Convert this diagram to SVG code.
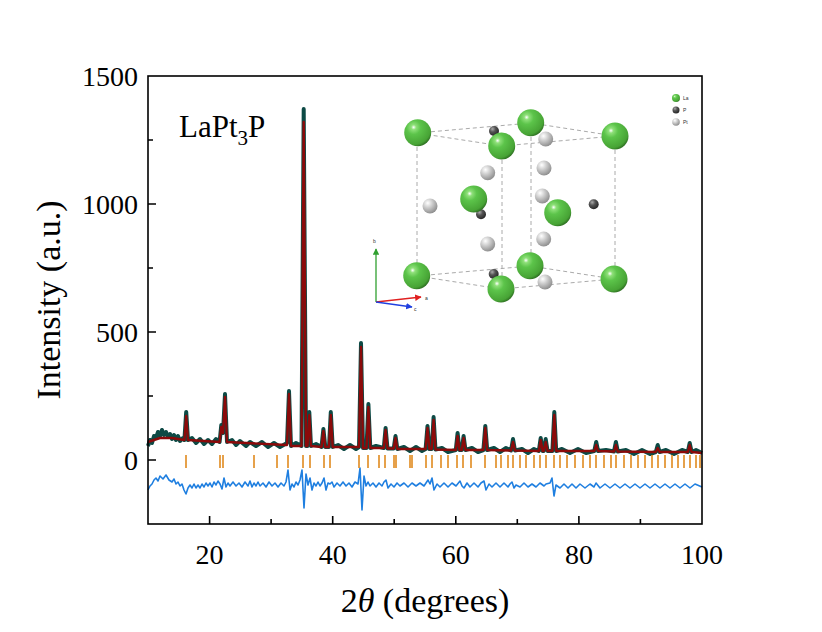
<svg xmlns="http://www.w3.org/2000/svg" width="822" height="632" viewBox="0 0 822 632">
<style>
.t{font-family:"Liberation Serif","Times New Roman",serif;fill:#000}
.tk{font-size:28px}
.ax{stroke:#000;stroke-width:1.6;fill:none}
.bragg line{stroke:#e08a1e;stroke-width:1.6}
.cell{stroke:#aaa;stroke-width:1;stroke-dasharray:4 3;fill:none}
.lg{font-family:"Liberation Sans",Arial,sans-serif;font-size:5px;fill:#333}
</style>
<defs>
<radialGradient id="gLa" cx="0.35" cy="0.3" r="0.75"><stop offset="0" stop-color="#ffffff"/><stop offset="0.12" stop-color="#8fe07a"/><stop offset="0.35" stop-color="#5cc44a"/><stop offset="0.85" stop-color="#47a335"/><stop offset="1" stop-color="#2c6a20"/></radialGradient>
<radialGradient id="gP" cx="0.35" cy="0.3" r="0.75"><stop offset="0" stop-color="#aaa"/><stop offset="0.4" stop-color="#555"/><stop offset="1" stop-color="#222"/></radialGradient>
<radialGradient id="gPt" cx="0.35" cy="0.3" r="0.75"><stop offset="0" stop-color="#fff"/><stop offset="0.4" stop-color="#cfcfcf"/><stop offset="1" stop-color="#8a8a8a"/></radialGradient>
<marker id="ar" viewBox="0 0 10 10" refX="9" refY="5" markerWidth="5" markerHeight="5" orient="auto"><path d="M0,0L10,5L0,10z" fill="#e02020"/></marker>
<marker id="ab" viewBox="0 0 10 10" refX="9" refY="5" markerWidth="5" markerHeight="5" orient="auto"><path d="M0,0L10,5L0,10z" fill="#2040e0"/></marker>
<marker id="ag" viewBox="0 0 10 10" refX="9" refY="5" markerWidth="5" markerHeight="5" orient="auto"><path d="M0,0L10,5L0,10z" fill="#30a030"/></marker>
</defs>
<rect width="822" height="632" fill="#fff"/>

<g id="data">
<path id="obs" fill="none" stroke="#0d4a45" stroke-width="4" stroke-linejoin="round" d="M148,446 L150,440 L152,443 L154,436 L156,438 L158,432 L160,436 L162,430 L164,435 L166,432 L168,437 L170,434 L172,439 L174,435 L176,440 L178,436 L180,441 L183,438 L184.4,440 L186.2,412 L188,440 L192,438 L196,443 L200,439 L204,444 L208,440 L212,444 L216,439 L219.6,442 L221.3,425 L223,433 L225,394 L227,442 L232,440 L236,445 L240,441 L246,446 L250,442 L256,446 L262,442 L268,447 L274,443 L280,447 L287,443 L289,391 L291,446 L296,443 L301.5,446 L303.7,109 L306,446 L307.5,446 L309.3,412 L311,446 L316,444 L321.5,447 L323.4,429 L325.3,447 L329,447 L330.8,412 L332.7,447 L338,445 L344,449 L350,445 L356,449 L359,447 L361,343 L363,448 L366.5,448 L368.4,404 L370.3,448 L376,446 L383.8,448 L385.6,428 L387.5,448.5 L393.7,448.5 L395.5,436 L397.4,449 L404,447 L410,451 L416,447 L422,451 L425.6,449 L427.5,426 L429.4,449 L431.7,449 L433.6,417 L435.5,449.5 L442,448 L448,452 L455.8,450 L457.6,433 L459.5,450 L461.8,450 L463.6,436 L465.5,450 L472,448 L478,452 L483.4,450 L485.3,426 L487.2,450 L494,448 L500,452 L506,448 L511,450.5 L513,439 L515,450.5 L522,449 L528,453 L534,449 L538.8,451 L540.7,438 L542.6,451 L543.8,451 L545.7,439 L547.6,451 L552.4,451 L554.3,412 L556.2,451 L562,449 L570,453 L578,449 L586,453 L594.3,451 L596.2,442 L598.1,451 L606,450 L614,451.5 L615.9,442 L617.8,451.5 L626,450 L634,454 L642,450 L650,454 L655.8,452 L657.7,445 L659.6,452 L666,450 L674,454 L682,450 L687.8,452 L689.7,443 L691.6,452 L696,450 L702,453"/>
<path id="calc" fill="none" stroke="#8b0a0a" stroke-width="2.4" stroke-linejoin="round" d="M148,442 L160,438 L172,438 L184.4,440 L186.2,416 L188,440 L219.6,442 L221.3,427 L223,433 L225,397 L227,442 L287,445 L289,394 L291,446 L301.5,446 L303.7,122 L306,446 L307.5,446 L309.3,415 L311,446 L321.5,447 L323.4,431 L325.3,447 L329,447 L330.8,415 L332.7,447 L359,447 L361,347 L363,448 L366.5,448 L368.4,407 L370.3,448 L383.8,448 L385.6,430 L387.5,448.5 L393.7,448.5 L395.5,438 L397.4,449 L425.6,449 L427.5,428 L429.4,449 L431.7,449 L433.6,420 L435.5,449.5 L455.8,450 L457.6,436 L459.5,450 L461.8,450 L463.6,438 L465.5,450 L483.4,450 L485.3,428 L487.2,450 L511,450.5 L513,442 L515,450.5 L538.8,451 L540.7,440 L542.6,451 L543.8,451 L545.7,442 L547.6,451 L552.4,451 L554.3,415 L556.2,451 L594.3,451 L596.2,445 L598.1,451 L614,451.5 L615.9,445 L617.8,451.5 L655.8,452 L657.7,448 L659.6,452 L687.8,452 L689.7,445 L691.6,452 L702,453"/>
<path id="diff" fill="none" stroke="#1f7fe0" stroke-width="1.6" stroke-linejoin="round" d="M148,490 L150,486 L152,484 L154,480 L156,478 L158,481 L160,476 L163,479 L166,475 L169,480 L172,482 L174,479 L176,484 L178,482 L180,486 L182,484 L184,490 L186,494 L188,488 L190,485 L192,488 L194,484 L196,488 L198,485 L200,488 L202,484 L204,487 L206,483 L208,486 L210,483 L212,487 L214,482 L216,485 L218,481 L220,484 L222,489 L224,478 L226,487 L228,483 L230,486 L233,482 L236,486 L239,483 L242,487 L245,482 L248,486 L250,481 L252,487 L254,483 L256,486 L258,482 L260,486 L263,483 L266,487 L269,482 L272,486 L275,483 L278,487 L281,483 L284,486 L286,482 L288,470 L290,490 L292,484 L294,487 L296,482 L298,485 L300,480 L302,470 L304,508 L306,474 L308,485 L310,478 L312,490 L314,483 L316,486 L318,482 L320,486 L322,483 L324,478 L326,490 L328,483 L330,484 L332,482 L334,487 L337,483 L340,486 L343,482 L346,486 L349,483 L352,487 L355,482 L358,484 L360,468 L362,510 L364,476 L366,486 L368,482 L370,486 L373,483 L376,487 L379,483 L382,486 L384,482 L386,480 L388,488 L391,484 L394,487 L397,483 L400,486 L404,483 L408,487 L412,483 L416,486 L420,483 L424,486 L428,480 L430,484 L432,478 L434,490 L437,484 L440,487 L444,483 L448,487 L452,483 L456,486 L460,481 L462,486 L464,488 L467,483 L470,487 L474,483 L478,487 L481,483 L484,481 L486,490 L489,484 L492,487 L496,483 L500,487 L504,483 L508,487 L510,484 L512,482 L514,488 L516,485 L520,487 L524,483 L528,487 L532,484 L536,487 L540,483 L544,486 L546,484 L550,483 L552,478 L554,496 L556,485 L560,488 L564,484 L568,488 L572,484 L576,488 L580,484 L585,488 L590,484 L594,487 L596,483 L600,488 L605,484 L610,488 L615,484 L620,488 L625,484 L630,488 L635,484 L640,488 L645,484 L650,488 L655,484 L660,488 L665,484 L670,488 L675,484 L680,488 L685,484 L690,488 L695,484 L702,487"/>
</g>

<g class="bragg">
<line x1="186" y1="455" x2="186" y2="468"/><line x1="220" y1="455" x2="220" y2="468"/><line x1="223" y1="455" x2="223" y2="468"/><line x1="254" y1="455" x2="254" y2="468"/><line x1="277" y1="455" x2="277" y2="468"/><line x1="288" y1="455" x2="288" y2="468"/><line x1="303" y1="455" x2="303" y2="468"/><line x1="310" y1="455" x2="310" y2="468"/><line x1="324" y1="455" x2="324" y2="468"/><line x1="330" y1="455" x2="330" y2="468"/><line x1="359" y1="455" x2="359" y2="468"/><line x1="368" y1="455" x2="368" y2="468"/><line x1="379" y1="455" x2="379" y2="468"/><line x1="385" y1="455" x2="385" y2="468"/><line x1="394" y1="455" x2="394" y2="468"/><line x1="396" y1="455" x2="396" y2="468"/><line x1="410" y1="455" x2="410" y2="468"/><line x1="412" y1="455" x2="412" y2="468"/><line x1="426" y1="455" x2="426" y2="468"/><line x1="432" y1="455" x2="432" y2="468"/><line x1="441" y1="455" x2="441" y2="468"/><line x1="448" y1="455" x2="448" y2="468"/><line x1="457" y1="455" x2="457" y2="468"/><line x1="463" y1="455" x2="463" y2="468"/><line x1="471" y1="455" x2="471" y2="468"/><line x1="485" y1="455" x2="485" y2="468"/><line x1="496" y1="455" x2="496" y2="468"/><line x1="501" y1="455" x2="501" y2="468"/><line x1="508" y1="455" x2="508" y2="468"/><line x1="513" y1="455" x2="513" y2="468"/><line x1="520" y1="455" x2="520" y2="468"/><line x1="526" y1="455" x2="526" y2="468"/><line x1="534" y1="455" x2="534" y2="468"/><line x1="540" y1="455" x2="540" y2="468"/><line x1="546" y1="455" x2="546" y2="468"/><line x1="554" y1="455" x2="554" y2="468"/><line x1="560" y1="455" x2="560" y2="468"/><line x1="567" y1="455" x2="567" y2="468"/><line x1="575" y1="455" x2="575" y2="468"/><line x1="583" y1="455" x2="583" y2="468"/><line x1="590" y1="455" x2="590" y2="468"/><line x1="596" y1="455" x2="596" y2="468"/><line x1="604" y1="455" x2="604" y2="468"/><line x1="611" y1="455" x2="611" y2="468"/><line x1="616" y1="455" x2="616" y2="468"/><line x1="624" y1="455" x2="624" y2="468"/><line x1="631" y1="455" x2="631" y2="468"/><line x1="638" y1="455" x2="638" y2="468"/><line x1="645" y1="455" x2="645" y2="468"/><line x1="652" y1="455" x2="652" y2="468"/><line x1="658" y1="455" x2="658" y2="468"/><line x1="665" y1="455" x2="665" y2="468"/><line x1="672" y1="455" x2="672" y2="468"/><line x1="678" y1="455" x2="678" y2="468"/><line x1="684" y1="455" x2="684" y2="468"/><line x1="690" y1="455" x2="690" y2="468"/><line x1="696" y1="455" x2="696" y2="468"/><line x1="700" y1="455" x2="700" y2="468"/>
</g>

<g id="axes">
<rect class="ax" x="148" y="76" width="554" height="448"/>
<path class="ax" d="M209.6,524v-8M271.1,524v-5M332.7,524v-8M394.2,524v-5M455.8,524v-8M517.3,524v-5M578.9,524v-8M640.4,524v-5M148,460h8M148,396h5M148,332h8M148,268h5M148,204h8M148,140h5"/>
<g class="t tk" text-anchor="middle">
<text x="209.6" y="564">20</text><text x="332.7" y="564">40</text><text x="455.8" y="564">60</text><text x="578.9" y="564">80</text><text x="702" y="564">100</text>
</g>
<g class="t tk" text-anchor="end">
<text x="138" y="470">0</text><text x="138" y="342">500</text><text x="138" y="214">1000</text><text x="138" y="86">1500</text>
</g>
<text class="t" x="60" y="300" font-size="34" text-anchor="middle" transform="rotate(-90 60 300)">Intensity (a.u.)</text>
<text class="t" x="425" y="612" font-size="34" text-anchor="middle"><tspan>2</tspan><tspan font-style="italic">θ</tspan><tspan> (degrees)</tspan></text>
<text class="t" x="179" y="137" font-size="31">LaPt<tspan font-size="21" dy="8">3</tspan><tspan dy="-8">P</tspan></text>
</g>

<g id="inset">
<path class="cell" d="M417,133L531,123L615,136L502,146Z M417,276L530,266L614,279L501,289Z M417,133V276 M615,136V279 M502,146V289 M531,123V266"/>
<g fill="url(#gPt)">
<circle cx="545.7" cy="139" r="7.5"/><circle cx="487.7" cy="172.7" r="7.5"/><circle cx="544" cy="168" r="7.5"/><circle cx="430" cy="206" r="7.5"/><circle cx="542.3" cy="196" r="7.5"/><circle cx="487.7" cy="244" r="7.5"/><circle cx="543.7" cy="239" r="7.5"/><circle cx="545" cy="282" r="7.5"/>
</g>
<g fill="url(#gP)">
<circle cx="494" cy="131" r="5"/><circle cx="481" cy="214.3" r="5"/><circle cx="593.7" cy="204.3" r="5"/><circle cx="493.7" cy="274" r="5"/>
</g>
<g fill="url(#gLa)">
<circle cx="417.7" cy="132.7" r="13.5"/><circle cx="530.7" cy="122.7" r="13.5"/><circle cx="615" cy="136" r="13.5"/><circle cx="501.7" cy="146" r="13.5"/><circle cx="473.7" cy="199" r="13.5"/><circle cx="557.7" cy="212.7" r="13.5"/><circle cx="416.7" cy="275.7" r="13.5"/><circle cx="530" cy="265.7" r="13.5"/><circle cx="614" cy="279" r="13.5"/><circle cx="501" cy="289" r="13.5"/>
</g>
<circle cx="676" cy="98" r="4" fill="url(#gLa)"/><circle cx="676" cy="110" r="3.5" fill="url(#gP)"/><circle cx="676" cy="122" r="3.8" fill="url(#gPt)"/>
<text class="lg" x="683" y="100">La</text><text class="lg" x="683" y="112">P</text><text class="lg" x="683" y="124">Pt</text>
<line x1="376" y1="302" x2="376" y2="249" stroke="#30a030" stroke-width="1.3" marker-end="url(#ag)"/>
<line x1="376" y1="302" x2="421" y2="297" stroke="#e02020" stroke-width="1.3" marker-end="url(#ar)"/>
<line x1="376" y1="302" x2="412" y2="307" stroke="#2040e0" stroke-width="1.3" marker-end="url(#ab)"/>
<text class="lg" x="373" y="243">b</text><text class="lg" x="425" y="300">a</text><text class="lg" x="414" y="311">c</text>
</g>
</svg>
